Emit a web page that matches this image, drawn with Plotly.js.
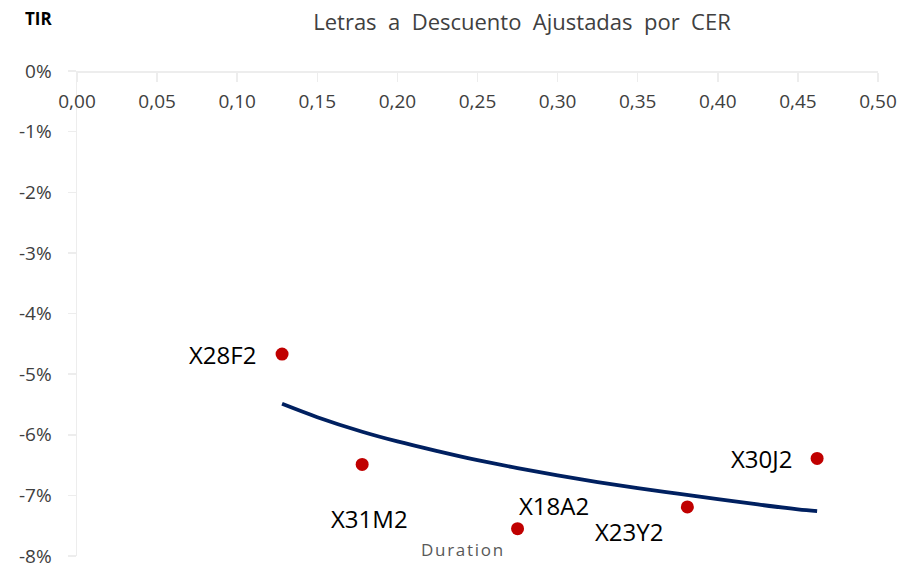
<!DOCTYPE html>
<html>
<head>
<meta charset="utf-8">
<script src="https://cdn.plot.ly/plotly-3.0.1.min.js"></script>
<style>html,body{margin:0;padding:0;background:#fff;}#chart{width:919px;height:566px;}</style>
</head>
<body>
<div id="chart"></div>
<script>
// Bonds: duration (years) vs TIR (%)
const bonds = ["X28F2", "X31M2", "X18A2", "X23Y2", "X30J2"];
const duration = [0.128, 0.178, 0.275, 0.381, 0.462];
const tir = [-4.67, -6.49, -7.55, -7.19, -6.39];

// Trend curve
const trendX = [0.128, 0.15, 0.178, 0.20, 0.225, 0.25, 0.275, 0.30, 0.325, 0.35, 0.375, 0.40, 0.425, 0.45, 0.462];
const trendY = [-5.49, -5.71, -5.95, -6.11, -6.27, -6.42, -6.55, -6.67, -6.78, -6.88, -6.97, -7.06, -7.15, -7.23, -7.26];

// Tick labels
const xTickVals = [0, 0.05, 0.10, 0.15, 0.20, 0.25, 0.30, 0.35, 0.40, 0.45, 0.50];
const xTickText = ["0,00", "0,05", "0,10", "0,15", "0,20", "0,25", "0,30", "0,35", "0,40", "0,45", "0,50"];
const yTickVals = [0, -1, -2, -3, -4, -5, -6, -7, -8];
const yTickText = ["0%", "-1%", "-2%", "-3%", "-4%", "-5%", "-6%", "-7%", "-8%"];

// Label placement offsets (px) — styling only
const labelDX = [-60, 7, 36, -58, -56];
const labelDY = [0, -54, 23, -25, 0];

const FONT = "Open Sans, Noto Sans, sans-serif";
const TITLE = "Letras a Descuento Ajustadas por CER";

const traces = [
  {
    x: trendX, y: trendY, type: "scatter", mode: "lines",
    line: {color: "#002060", width: 3.8, shape: "spline"},
    hoverinfo: "skip", showlegend: false
  },
  {
    x: duration, y: tir, type: "scatter", mode: "markers",
    marker: {color: "#C00000", size: 13},
    showlegend: false
  }
];

const annotations = bonds.map((b, i) => ({
  x: duration[i], y: tir[i], xref: "x", yref: "y",
  text: b, showarrow: false,
  xshift: labelDX[i], yshift: labelDY[i],
  xanchor: "center", yanchor: "middle",
  font: {family: FONT, size: 24, color: "#000000"}
}));

annotations.push({
  xref: "paper", yref: "paper", x: -0.068, y: 1.0, yshift: 53,
  xanchor: "left", yanchor: "middle", text: "<b>TIR</b>", showarrow: false,
  font: {family: FONT, size: 17, color: "#000000"}
});
annotations.push({
  xref: "paper", yref: "paper", x: 0.481, y: 0, yshift: 7,
  xanchor: "center", yanchor: "middle", text: "D u r a t i o n".replace(/ /g, "\u200A"),
  showarrow: false,
  font: {family: FONT, size: 17, color: "#595959"}
});

const layout = {
  width: 919, height: 566,
  margin: {l: 76.5, r: 41.3, t: 71, b: 10, pad: 0},
  paper_bgcolor: "#ffffff", plot_bgcolor: "#ffffff",
  font: {family: FONT, color: "#404040"},
  title: {
    text: TITLE.replace(/ /g, "\u00A0 "),
    font: {family: FONT, size: 22, color: "#404040"},
    xref: "container", x: 0.568, xanchor: "center",
    yref: "container", y: 0.961, yanchor: "middle"
  },
  xaxis: {
    range: [0, 0.5], tickvals: xTickVals, ticktext: xTickText,
    side: "bottom", anchor: "free", position: 1,
    showline: true, linecolor: "#EDEDED", linewidth: 1.5,
    ticks: "outside", ticklen: 9, tickcolor: "#EDEDED", tickwidth: 1.5,
    showgrid: false, zeroline: false,
    tickfont: {family: FONT, size: 19, color: "#404040"},
    ticklabelstandoff: 4
  },
  yaxis: {
    range: [-8, 0], tickvals: yTickVals, ticktext: yTickText,
    showline: true, linecolor: "#EDEDED", linewidth: 1.5,
    ticks: "outside", ticklen: 8, tickcolor: "#EDEDED", tickwidth: 1.5,
    showgrid: false, zeroline: false,
    tickfont: {family: FONT, size: 19, color: "#404040"},
    ticklabelstandoff: 12, ticklabeloverflow: "allow"
  },
  annotations: annotations
};

Plotly.newPlot("chart", traces, layout, {displayModeBar: false, staticPlot: true});
</script>
</body>
</html>
